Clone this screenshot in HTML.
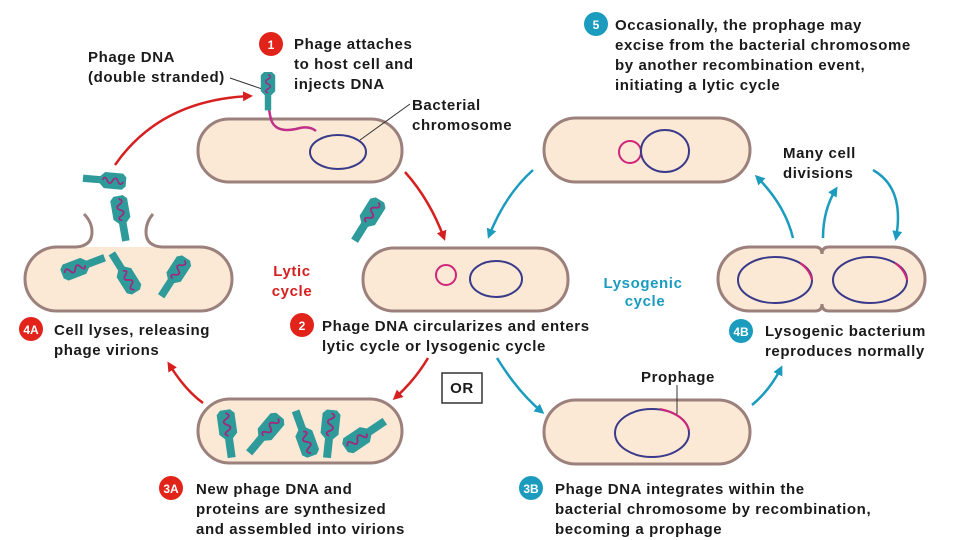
<!DOCTYPE html>
<html><head><meta charset="utf-8"><style>
html,body{margin:0;padding:0;background:#fff;}
svg{display:block;}
text{font-family:"Liberation Sans",Arial,sans-serif;font-weight:bold;font-size:15px;letter-spacing:0.6px;fill:#1a1a1a;}
.w{fill:#fff;font-size:12px;letter-spacing:0;}
</style></head><body>
<svg width="960" height="540" viewBox="0 0 960 540" xmlns="http://www.w3.org/2000/svg">
<defs>
<marker id="ar" markerWidth="10" markerHeight="10" refX="7" refY="5" orient="auto" markerUnits="userSpaceOnUse"><path d="M0,0 L10,5 L0,10 Z" fill="#d62020"/></marker>
<marker id="at" markerWidth="10" markerHeight="10" refX="7" refY="5" orient="auto" markerUnits="userSpaceOnUse"><path d="M0,0 L10,5 L0,10 Z" fill="#1b9bbd"/></marker>
<g id="ph"><polygon points="0,-5 4,-9 24,-9 29,-4 48,-4 48,4 29,4 24,9 4,9 0,5" fill="#2e9a9a"/><path d="M3,0 q3,-6 6,0 t6,0 t6,0 t5,0" fill="none" stroke="#a0287e" stroke-width="1.8"/></g>
</defs>
<g fill="#fbe9d6" stroke="#9b807c" stroke-width="3">
<rect x="198" y="119" width="204" height="63" rx="31"/>
<rect x="363" y="248" width="205" height="63" rx="31"/>
<rect x="198" y="399" width="204" height="64" rx="32"/>
<rect x="544" y="400" width="206" height="64" rx="32"/>
<rect x="544" y="118" width="206" height="64" rx="32"/>
<path d="M750,247 H815 Q822,247 822,254 Q822,247 829,247 H893 A32,32 0 0 1 893,311 H829 Q822,311 822,304 Q822,311 815,311 H750 A32,32 0 0 1 750,247 Z"/>
</g>
<path d="M57,247 H200 A32,32 0 0 1 200,311 H57 A32,32 0 0 1 57,247 Z" fill="#fbe9d6"/>
<g fill="none" stroke="#9b807c" stroke-width="3">
<path d="M84,214 Q92,222 92,232 Q92,246 76,247 H57 A32,32 0 0 0 57,311 H200 A32,32 0 0 0 200,247 H162 Q146,246 146,232 Q146,222 153,214"/>
</g>
<g fill="none" stroke-width="2">
<ellipse cx="338" cy="152" rx="28" ry="17" stroke="#3a3a8a"/>
<circle cx="446" cy="275" r="10" stroke="#d0247a"/>
<ellipse cx="496" cy="279" rx="26" ry="18" stroke="#3a3a8a"/>
<circle cx="630" cy="152" r="11" stroke="#d0247a"/>
<ellipse cx="665" cy="151" rx="24" ry="21" stroke="#3a3a8a"/>
<ellipse cx="652" cy="433" rx="37" ry="24" stroke="#3a3a8a"/>
<path d="M660,409 Q684,414 689,430" stroke="#d0247a"/>
<ellipse cx="775" cy="280" rx="37" ry="23" stroke="#3a3a8a"/>
<ellipse cx="870" cy="280" rx="37" ry="23" stroke="#3a3a8a"/>
<path d="M800,263 Q810,270 812,280" stroke="#d0247a"/>
<path d="M895,263 Q905,270 907,280" stroke="#d0247a"/>
<path d="M268,88 Q268,112 272,122 Q278,134 300,128 Q310,126 316,131" stroke="#c0308a" stroke-width="2.5"/>
</g>
<g stroke="#333" stroke-width="1" fill="none">
<line x1="230" y1="78" x2="265" y2="90"/>
<line x1="410" y1="104" x2="360" y2="140"/>
<line x1="677" y1="385" x2="677" y2="414"/>
</g>
<use href="#ph" transform="translate(268,72) rotate(90) scale(0.8)"/>
<use href="#ph" transform="translate(380,200) rotate(122)"/>
<use href="#ph" transform="translate(126,182) rotate(185) scale(0.9)"/>
<use href="#ph" transform="translate(118,196) rotate(80) scale(0.95)"/>
<use href="#ph" transform="translate(136,292) rotate(238) scale(0.95)"/>
<use href="#ph" transform="translate(62,274) rotate(-21) scale(0.95)"/>
<use href="#ph" transform="translate(186,258) rotate(123) scale(0.95)"/>
<use href="#ph" transform="translate(225,410) rotate(82)"/>
<use href="#ph" transform="translate(280,416) rotate(130)"/>
<use href="#ph" transform="translate(312,456) rotate(250)"/>
<use href="#ph" transform="translate(332,410) rotate(96)"/>
<use href="#ph" transform="translate(345,448) rotate(-34)"/>
<g fill="none" stroke-width="2.5">
<path d="M115,165 Q160,100 250,96" stroke="#d62020" marker-end="url(#ar)"/>
<path d="M405,172 Q430,200 444,238" stroke="#d62020" marker-end="url(#ar)"/>
<path d="M428,358 Q415,380 395,398" stroke="#d62020" marker-end="url(#ar)"/>
<path d="M203,403 Q185,390 169,364" stroke="#d62020" marker-end="url(#ar)"/>
<path d="M533,170 Q505,195 489,236" stroke="#1b9bbd" marker-end="url(#at)"/>
<path d="M497,358 Q518,392 542,412" stroke="#1b9bbd" marker-end="url(#at)"/>
<path d="M752,405 Q770,390 781,368" stroke="#1b9bbd" marker-end="url(#at)"/>
<path d="M793,238 Q785,205 757,177" stroke="#1b9bbd" marker-end="url(#at)"/>
<path d="M823,238 Q823,210 836,189" stroke="#1b9bbd" marker-end="url(#at)"/>
<path d="M873,170 Q905,188 896,238" stroke="#1b9bbd" marker-end="url(#at)"/>
</g>
<g fill="#e2231a"><circle cx="271" cy="44" r="12"/><circle cx="31" cy="329" r="12"/><circle cx="302" cy="325" r="12"/><circle cx="171" cy="488" r="12"/></g>
<g fill="#1b9bbd"><circle cx="596" cy="24" r="12"/><circle cx="741" cy="331" r="12"/><circle cx="531" cy="488" r="12"/></g>
<text class="w" x="271" y="49" text-anchor="middle">1</text>
<text class="w" x="31" y="334" text-anchor="middle" font-size="11">4A</text>
<text class="w" x="302" y="330" text-anchor="middle">2</text>
<text class="w" x="171" y="493" text-anchor="middle" font-size="11">3A</text>
<text class="w" x="596" y="29" text-anchor="middle">5</text>
<text class="w" x="741" y="336" text-anchor="middle" font-size="11">4B</text>
<text class="w" x="531" y="493" text-anchor="middle" font-size="11">3B</text>
<text x="88" y="62">Phage DNA</text><text x="88" y="82">(double stranded)</text>
<text x="294" y="49">Phage attaches</text><text x="294" y="69">to host cell and</text><text x="294" y="89">injects DNA</text>
<text x="412" y="110">Bacterial</text><text x="412" y="130">chromosome</text>
<text x="615" y="30">Occasionally, the prophage may</text><text x="615" y="50">excise from the bacterial chromosome</text><text x="615" y="70">by another recombination event,</text><text x="615" y="90">initiating a lytic cycle</text>
<text x="783" y="158">Many cell</text><text x="783" y="178">divisions</text>
<text x="292" y="276" text-anchor="middle" style="fill:#d62020">Lytic</text><text x="292" y="296" text-anchor="middle" style="fill:#d62020">cycle</text>
<text x="643" y="288" text-anchor="middle" style="fill:#1b9bbd">Lysogenic</text><text x="645" y="306" text-anchor="middle" style="fill:#1b9bbd">cycle</text>
<text x="54" y="335">Cell lyses, releasing</text><text x="54" y="355">phage virions</text>
<text x="322" y="331">Phage DNA circularizes and enters</text><text x="322" y="351">lytic cycle or lysogenic cycle</text>
<rect x="442" y="373" width="40" height="30" fill="#fff" stroke="#333" stroke-width="1.5"/>
<text x="462" y="393" text-anchor="middle">OR</text>
<text x="765" y="336">Lysogenic bacterium</text><text x="765" y="356">reproduces normally</text>
<text x="641" y="382">Prophage</text>
<text x="196" y="494">New phage DNA and</text><text x="196" y="514">proteins are synthesized</text><text x="196" y="534">and assembled into virions</text>
<text x="555" y="494">Phage DNA integrates within the</text><text x="555" y="514">bacterial chromosome by recombination,</text><text x="555" y="534">becoming a prophage</text>
</svg>
</body></html>
